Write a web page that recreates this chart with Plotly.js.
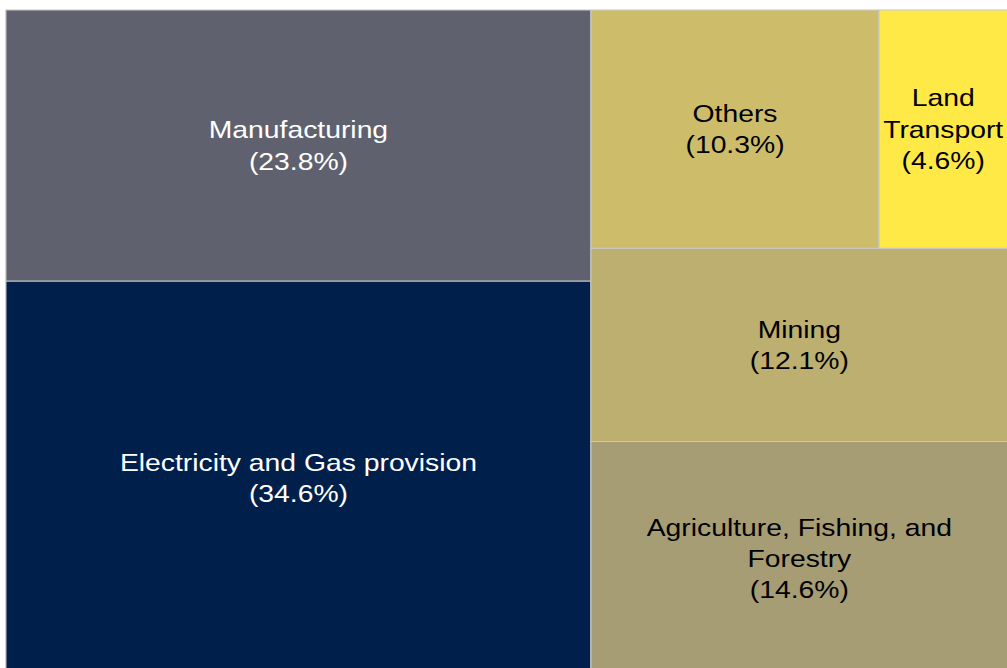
<!DOCTYPE html>
<html>
<head>
<meta charset="utf-8">
<script src="https://cdn.plot.ly/plotly-3.0.1.min.js"></script>
<style>
html,body{margin:0;padding:0;background:#fff;overflow:hidden;}
#wrap{width:1007px;height:668px;overflow:hidden;position:relative;}
#chart{position:absolute;left:0;top:0;transform-origin:0 0;transform:scaleX(1.18);}
</style>
</head>
<body>
<div id="wrap"><div id="chart"></div></div>
<script>
const sectors = ["Electricity and Gas provision", "Manufacturing", "Agriculture, Fishing, and Forestry", "Mining", "Others", "Land Transport"];
const shares = [34.6, 23.8, 14.6, 12.1, 10.3, 4.6];
const displayLabels = ["Electricity and Gas provision", "Manufacturing", "Agriculture, Fishing, and<br>Forestry", "Mining", "Others", "Land<br>Transport"];
const sectorColors = ["#001F4B", "#5F626E", "#A69D75", "#BCAF6F", "#CDBD6A", "#FFE946"];
const textColors = ["#ffffff", "#ffffff", "#000000", "#000000", "#000000", "#000000"];

const texts = displayLabels.map((l, i) => l + "<br>(" + shares[i].toFixed(1) + "%)");

Plotly.newPlot("chart", [{
  type: "treemap",
  labels: sectors,
  parents: sectors.map(() => ""),
  values: shares,
  text: texts,
  textinfo: "text",
  textposition: "middle center",
  textfont: {family: "Liberation Sans, Arial, sans-serif", size: 24, color: textColors},
  marker: {colors: sectorColors, line: {color: "#c8c8c8", width: 1}, pad: {t: 0, l: 0, r: 0, b: 0}},
  tiling: {pad: 0, flip: "y"},
  pathbar: {visible: false},
  hoverinfo: "label+value"
}], {
  width: 854, height: 675,
  margin: {l: 5, r: 0, t: 10, b: 0},
  paper_bgcolor: "#ffffff",
  showlegend: false
}, {displayModeBar: false});
</script>
</body>
</html>
